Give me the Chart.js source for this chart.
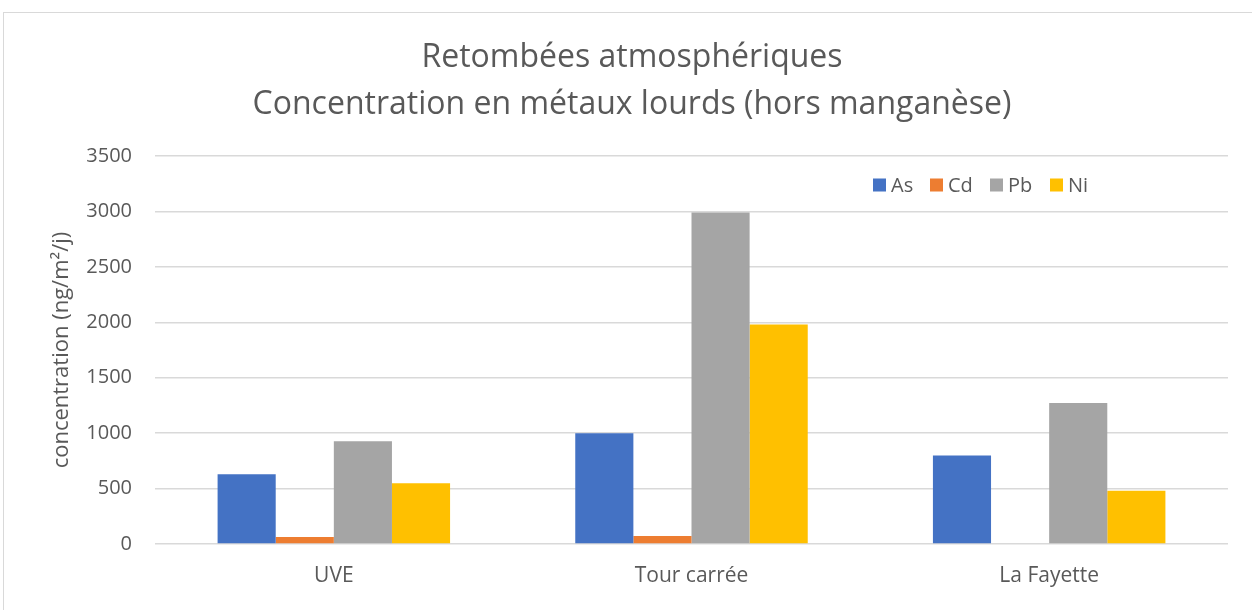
<!DOCTYPE html>
<html><head><meta charset="utf-8">
<script src="https://cdn.jsdelivr.net/npm/chart.js@4"></script>
<style>
html,body{margin:0;padding:0;background:#fff;overflow:hidden;width:1252px;height:610px;}
#frame{position:absolute;left:3px;top:12px;width:1300px;height:700px;border:1px solid #d9d9d9;box-sizing:border-box;}
#wrap{position:absolute;left:0;top:0;width:1252px;height:610px;}
</style></head>
<body>
<div id="frame"></div>
<div id="wrap"><canvas id="c" width="1252" height="610"></canvas></div>
<script>
const categories = ['UVE', 'Tour carrée', 'La Fayette'];
const seriesNames = ['As', 'Cd', 'Pb', 'Ni'];
const asValues = [630, 1000, 798];
const cdValues = [63, 72, 0];
const pbValues = [927, 2990, 1272];
const niValues = [549, 1980, 480];
const yTicks = [0, 500, 1000, 1500, 2000, 2500, 3000, 3500];
const colors = ['#4472C4', '#ED7D31', '#A5A5A5', '#FFC000'];

const FONT = "'Open Sans', 'Noto Sans', sans-serif";
const TXT = '#595959';

const legendPlugin = {
  id: 'insideLegend',
  afterDraw(chart) {
    const ctx = chart.ctx;
    const xs = [873, 930, 990, 1050];
    const y = 185;
    ctx.save();
    ctx.font = '20px ' + FONT;
    ctx.textBaseline = 'middle';
    chart.data.datasets.forEach((ds, i) => {
      ctx.fillStyle = ds.backgroundColor;
      ctx.fillRect(xs[i], y - 6.5, 13, 13);
      ctx.fillStyle = TXT;
      ctx.fillText(ds.label, xs[i] + 18, y + 1);
    });
    ctx.restore();
  }
};

const allValues = [asValues, cdValues, pbValues, niValues];
new Chart(document.getElementById('c'), {
  type: 'bar',
  data: {
    labels: categories,
    datasets: seriesNames.map((n, i) => ({
      label: n,
      data: allValues[i],
      backgroundColor: colors[i],
      borderWidth: 0,
      categoryPercentage: 0.65,
      barPercentage: 1.0
    }))
  },
  options: {
    responsive: false,
    animation: false,
    devicePixelRatio: 1,
    layout: { padding: { left: 36, right: 24, top: 12, bottom: 0 } },
    plugins: {
      legend: { display: false },
      tooltip: { enabled: false },
      title: {
        display: true,
        text: ['Retombées atmosphériques', 'Concentration en métaux lourds (hors manganèse)'],
        color: TXT,
        font: { family: FONT, size: 32, weight: 'normal', lineHeight: 1.47 },
        padding: { top: 22, bottom: 28 }
      }
    },
    scales: {
      x: {
        grid: { display: false, drawTicks: false },
        border: { display: false },
        ticks: { color: TXT, font: { family: FONT, size: 21 }, padding: 19 },
        afterFit(s) { s.height = 66; }
      },
      y: {
        min: 0, max: 3500,
        afterBuildTicks(s) { s.ticks = yTicks.map(v => ({ value: v })); },
        grid: { color: '#d9d9d9', lineWidth: 1.5, drawTicks: false },
        border: { display: false },
        ticks: { color: TXT, font: { family: FONT, size: 20 }, padding: 23,
                 callback: v => String(v) },
        title: {
          display: true,
          text: 'concentration (ng/m²/j)',
          color: TXT,
          font: { family: FONT, size: 22 },
          padding: { top: 13, bottom: 0 }
        },
        afterFit(s) { s.width = 119; }
      }
    }
  },
  plugins: [legendPlugin]
});
</script>
</body></html>
